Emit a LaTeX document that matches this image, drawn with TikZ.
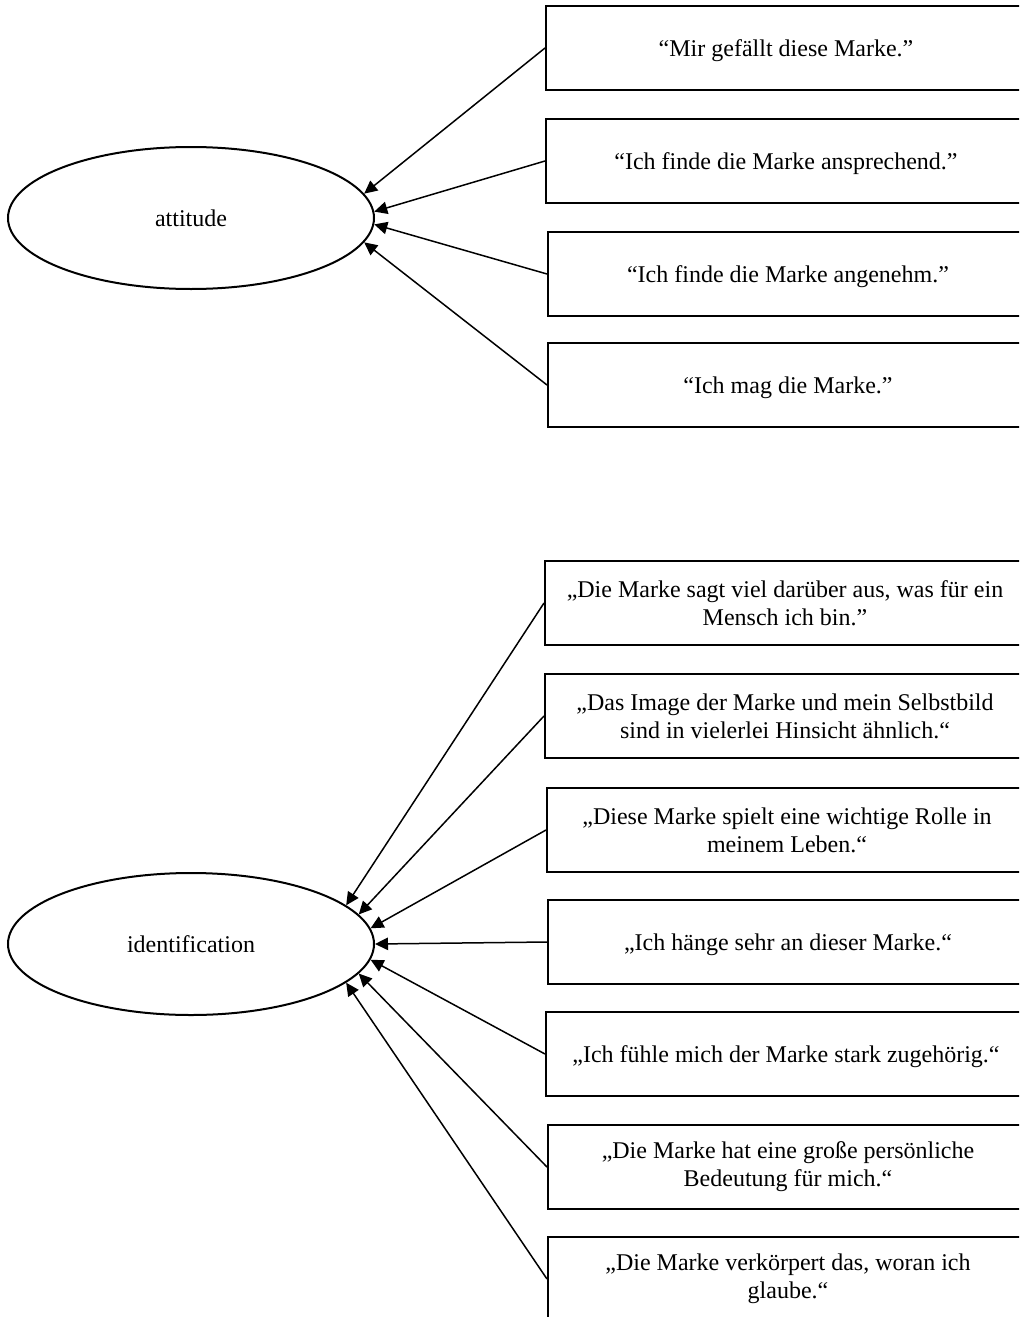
\documentclass[tikz,border=0pt]{standalone}
\usepackage{fontspec}
\setmainfont{Liberation Serif}
\usetikzlibrary{arrows.meta,shapes.geometric}

\begin{document}
\begin{tikzpicture}[x=0.5pt,y=0.5pt,
  construct/.style={ellipse,draw,line width=1pt,minimum width=183pt,minimum height=71pt,inner sep=0pt,font=\fontsize{12}{14}\selectfont},
  item/.style={rectangle,draw,line width=1pt,minimum width=240pt,minimum height=42pt,inner sep=0pt,align=center,font=\fontsize{12}{14}\selectfont},
  oneline/.style={item,text depth=0pt},
  load/.style={line width=0.75pt,-{Triangle[length=6.5pt,width=6.2pt]}}]
\useasboundingbox (0,0) rectangle (1019,-1317);
\clip (0,0) rectangle (1019,-1317);

% latent constructs
\node[construct] (att) at (191,-218) {attitude};
\node[construct] (ide) at (191,-944) {identification};

% attitude items
\node[oneline] (a1) at (786,-48)  {“Mir gefällt diese Marke.”};
\node[oneline] (a2) at (786,-161) {“Ich finde die Marke ansprechend.”};
\node[oneline] (a3) at (788,-274) {“Ich finde die Marke angenehm.”};
\node[oneline] (a4) at (788,-385) {“Ich mag die Marke.”};

% identification items
\node[item] (i1) at (785,-603)  {„Die Marke sagt viel darüber aus, was für ein\\Mensch ich bin.”};
\node[item] (i2) at (785,-716)  {„Das Image der Marke und mein Selbstbild\\sind in vielerlei Hinsicht ähnlich.“};
\node[item] (i3) at (787,-830)  {„Diese Marke spielt eine wichtige Rolle in\\meinem Leben.“};
\node[oneline] (i4) at (788,-942)  {„Ich hänge sehr an dieser Marke.“};
\node[oneline] (i5) at (786,-1054) {„Ich fühle mich der Marke stark zugehörig.“};
\node[item] (i6) at (788,-1167) {„Die Marke hat eine große persönliche\\Bedeutung für mich.“};
\node[item] (i7) at (788,-1279) {„Die Marke verkörpert das, woran ich\\glaube.“};

% loadings
\draw[load] (a1.west) -- (att.8.5);
\draw[load] (a2.west) -- (att.2.7);
\draw[load] (a3.west) -- (att.-2.7);
\draw[load] (a4.west) -- (att.-8.5);

\draw[load] (i1.west) -- (ide.14);
\draw[load] (i2.west) -- (ide.10);
\draw[load] (i3.west) -- (ide.5);
\draw[load] (i4.west) -- (ide.0);
\draw[load] (i5.west) -- (ide.-5);
\draw[load] (i6.west) -- (ide.-10);
\draw[load] (i7.west) -- (ide.-14.5);
\end{tikzpicture}
\end{document}
